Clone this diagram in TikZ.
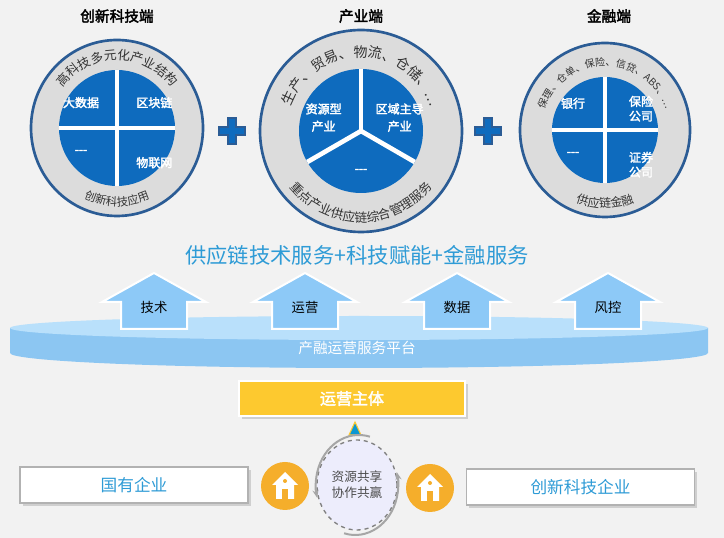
\documentclass[tikz,border=0pt]{standalone}
\usepackage{fontspec}
\setmainfont{Noto Sans CJK SC}[AutoFakeBold=2.5]
\usetikzlibrary{decorations.text,arrows.meta,shadows,shapes.geometric}
\definecolor{bg}{HTML}{F2F2F2}
\definecolor{qblue}{HTML}{0E6BBE}
\definecolor{rimblue}{HTML}{2B5C95}
\definecolor{ringgray}{HTML}{DCDCDC}
\definecolor{txtblue}{HTML}{2E9BD6}
\definecolor{arrblue}{HTML}{8DC9F7}
\definecolor{platlight}{HTML}{B9E0FB}
\definecolor{platdark}{HTML}{8CC6F2}
\definecolor{yel}{HTML}{FDC92F}
\definecolor{org}{HTML}{F5AE2B}
\tikzset{
 ring/.style={fill=ringgray,draw=rimblue,line width=2pt},
 qtext/.style={text=white,font=\fontsize{9}{11}\selectfont\bfseries,align=center},
 ttl/.style={font=\fontsize{11}{13}\selectfont\bfseries},
 uparrow/.style={fill=arrblue,draw=white,line width=1.5pt},
 ebox/.style={fill=white,draw=gray!60,line width=0.8pt,drop shadow={opacity=0.3,shadow xshift=2pt,shadow yshift=-2pt},minimum width=228*0.75pt,minimum height=36*0.75pt,text=txtblue,font=\fontsize{12.5}{15}\selectfont},
 house/.style={circle,fill=org,minimum size=48*0.75pt,inner sep=0pt},
 sep/.style={white,line width=3.5pt},
}
\begin{document}
\begin{tikzpicture}[x=0.75pt,y=0.75pt]
\fill[bg] (0,0) rectangle (724,538);
\useasboundingbox (0,0) rectangle (724,538);
% titles
\node[ttl] (t1) at (117,522) {创新科技端};
\node[ttl] (t2) at (361,522) {产业端};
\node[ttl] (t3) at (609,522) {金融端};
% left circle
\coordinate (c1) at (117,410);
\fill[ring] (c1) ellipse[x radius=86,y radius=88];
\fill[qblue] (c1) circle[radius=58];
\begin{scope}
\clip (c1) circle[radius=58];
\draw[sep] ([yshift=-60]c1) -- ([yshift=60]c1);
\draw[sep] ([xshift=-60]c1) -- ([xshift=60]c1);
\end{scope}
\node[qtext] (l1) at ([xshift=-27,yshift=19]c1) {大数据};
\node[qtext] (l2) at ([xshift=28,yshift=19]c1) {区块链};
\node[qtext] (l3) at ([xshift=-27,yshift=-18]c1) {-{}-{}-};
\node[qtext] (l4) at ([xshift=28,yshift=-26]c1) {物联网};
\path[decorate,decoration={text along path,text align=center,text={|\fontsize{9.5}{10}\selectfont\color{black!80}|高科技多元化产业结构}}]
 ([shift={(170:68)}]c1) arc[start angle=170,end angle=10,radius=68];
\path[decorate,decoration={text along path,text align=center,text={|\fontsize{8.5}{10}\selectfont\color{black!80}|创新科技应用}}]
 ([shift={(240:78)}]c1) arc[start angle=240,end angle=300,radius=78];
% middle circle
\coordinate (c2) at (361,407);
\fill[ring] (c2) circle[radius=101];
\fill[qblue] (c2) circle[radius=62];
\begin{scope}
\clip (c2) circle[radius=62];
\draw[sep] (c2) -- ++(90:64);
\draw[sep] (c2) -- ++(210:64);
\draw[sep] (c2) -- ++(330:64);
\end{scope}
\node[qtext] (m1) at ([xshift=-28,yshift=10]c2) {资源型\\[2pt]产业};
\node[qtext] (m2) at ([xshift=29,yshift=10]c2) {区域主导\\[2pt]产业};
\node[qtext] (m3) at ([yshift=-30]c2) {-{}-{}-};
\path[decorate,decoration={text along path,text align=center,text={|\fontsize{10.5}{11}\selectfont\color{black!80}|生产、贸易、物流、仓储、…}}]
 ([shift={(178:74)}]c2) arc[start angle=178,end angle=2,radius=74];
\path[decorate,decoration={text along path,text align=center,text={|\fontsize{9.5}{10}\selectfont\color{black!80}|重点产业供应链综合管理服务}}]
 ([shift={(205:91)}]c2) arc[start angle=205,end angle=335,radius=91];
% right circle
\coordinate (c3) at (605,408);
\fill[ring] (c3) ellipse[x radius=85,y radius=87];
\fill[qblue] (c3) circle[radius=53];
\begin{scope}
\clip (c3) circle[radius=53];
\draw[sep] ([yshift=-57]c3) -- ([yshift=57]c3);
\draw[sep] ([xshift=-57]c3) -- ([xshift=57]c3);
\end{scope}
\node[qtext] (r1) at ([xshift=-24,yshift=20]c3) {银行};
\node[qtext] (r2) at ([xshift=27,yshift=16]c3) {保险\\公司};
\node[qtext] (r3) at ([xshift=-24,yshift=-18]c3) {-{}-{}-};
\node[qtext] (r4) at ([xshift=27,yshift=-26]c3) {证券\\公司};
\path[decorate,decoration={text along path,text align=center,text={|\fontsize{7.5}{9}\selectfont\color{black!80}|保理、仓单、保险、信贷、ABS、…}}]
 ([shift={(200:64)}]c3) arc[start angle=200,end angle=-20,radius=64];
\path[decorate,decoration={text along path,text align=center,text={|\fontsize{9}{10}\selectfont\color{black!80}|供应链金融}}]
 ([shift={(243:78)}]c3) arc[start angle=243,end angle=297,radius=78];
% plus signs
\foreach \px/\nm in {232/p1,488/p2}{
 \node[inner sep=0pt] (\nm) at (\px,407) {};
 \fill[qblue,draw=rimblue,line width=1pt] (\px-4,407+13) -- (\px+4,407+13) -- (\px+4,407+4) -- (\px+13,407+4) -- (\px+13,407-4) -- (\px+4,407-4) -- (\px+4,407-13) -- (\px-4,407-13) -- (\px-4,407-4) -- (\px-13,407-4) -- (\px-13,407+4) -- (\px-4,407+4) -- cycle;
}
% big text
\node[text=txtblue,font=\fontsize{16}{19}\selectfont] (big) at (357,283) {供应链技术服务+科技赋能+金融服务};
% platform
\fill[platdark] (10,210) -- (10,185) arc[start angle=180,end angle=360,x radius=349,y radius=15] -- (708,210) -- cycle;
\fill[platlight] (359,210) ellipse[x radius=349,y radius=12];
\node[text=white,font=\fontsize{11}{13}\selectfont] (plat) at (357,190) {产融运营服务平台};
% up arrows
\foreach \ax/\lab/\nm in {154/技术/a1,305/运营/a2,457/数据/a3,608/风控/a4}{
 \draw[uparrow] (\ax-33,209) -- (\ax+33,209) -- (\ax+33,236) -- (\ax+52,236) -- (\ax,265) -- (\ax-52,236) -- (\ax-33,236) -- cycle;
 \node[font=\fontsize{10}{12}\selectfont] (\nm) at (\ax,231) {\lab};
}
% operator
\node[fill=yel,draw=white,line width=1pt,drop shadow={opacity=0.3,shadow xshift=2pt,shadow yshift=-2pt},minimum width=226*0.75pt,minimum height=35*0.75pt,text=white,font=\fontsize{12}{14}\selectfont\bfseries] (op) at (352,139.5) {运营主体};
\fill[qblue!70!cyan,draw=yel,line width=0.8pt] (349,103) -- (361,103) -- (355,116) -- cycle;
% center circle
\node[ellipse,minimum width=80*0.75pt,minimum height=90*0.75pt] (cc) at (357,53) {};
\fill[gray!25!blue!8!white,draw=gray,dashed,line width=1pt] (357,53) ellipse[x radius=40,y radius=45];
\node[font=\fontsize{9.5}{12}\selectfont,text=black!70,align=center] (cct) at (357,53) {资源共享\\协作共赢};
\draw[gray!70,line width=1.5pt,-{Stealth[length=6pt]}] (357,53) ++(75:50) arc[start angle=75,end angle=195,x radius=43,y radius=50];
\draw[gray!70,line width=1.5pt,-{Stealth[length=6pt]}] (357,53) ++(255:50) arc[start angle=255,end angle=375,x radius=43,y radius=50];
% houses
\foreach \hx/\hy/\nm in {285/52/h1,430/50/h2}{
 \node[house] (\nm) at (\hx,\hy) {};
 \fill[white] (\hx-13,\hy+1) -- (\hx,\hy+14) -- (\hx+13,\hy+1) -- (\hx+9,\hy+1) -- (\hx+9,\hy-13) -- (\hx-9,\hy-13) -- (\hx-9,\hy+1) -- cycle;
 \fill[org] (\hx-3,\hy-13) rectangle (\hx+3,\hy-3);
 \fill[org] (\hx,\hy+5) circle[radius=2];
}
% boxes
\node[ebox] (gy) at (134,53) {国有企业};
\node[ebox] (cx) at (580.5,51) {创新科技企业};
\end{tikzpicture}
\end{document}
